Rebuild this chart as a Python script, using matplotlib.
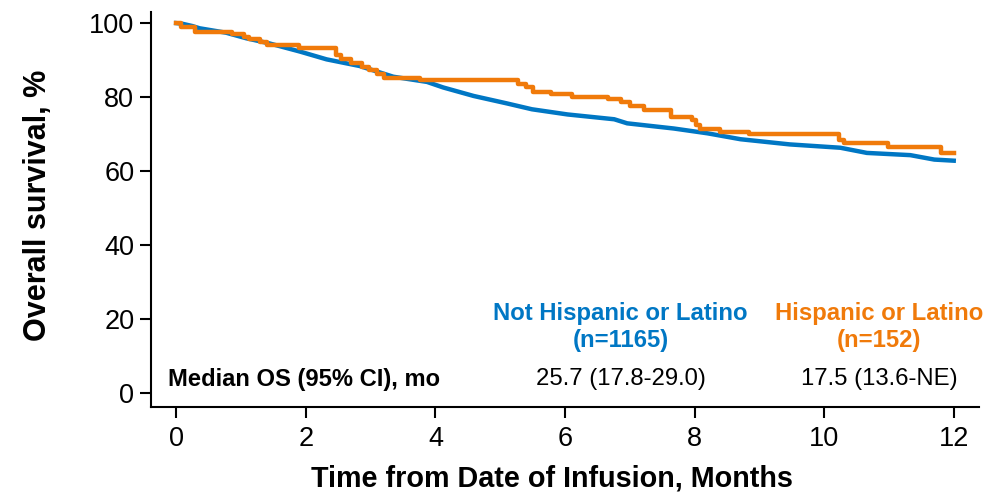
import matplotlib
matplotlib.use("Agg")
import matplotlib.pyplot as plt

plt.rcParams["font.family"] = ["Liberation Sans", "DejaVu Sans"]

BLUE = "#0077C4"
ORANGE = "#F07A0A"

# Not Hispanic or Latino (n=1165), KM estimate read at event times
t_not = [0, 0.1, 0.25, 0.36, 0.77, 1.08, 1.44, 1.91, 2.32, 2.83, 3.35, 3.87,
         4.12, 4.59, 5.1, 5.49, 6.04, 6.76, 6.96, 7.68, 8.2, 8.71, 9.47,
         10.25, 10.66, 11.33, 11.7, 12.0]
s_not = [100, 99.8, 99.2, 98.6, 97.4, 95.9, 94.5, 92.3, 90.2, 88.4, 85.5, 84.1,
         82.6, 80.3, 78.3, 76.7, 75.3, 74.0, 72.9, 71.5, 70.2, 68.6, 67.2,
         66.3, 64.9, 64.3, 63.1, 62.8]

# Hispanic or Latino (n=152), step function
t_his = [0, 0.07, 0.29, 0.86, 1.04, 1.12, 1.30, 1.40, 1.89, 2.46, 2.55, 2.70,
         2.87, 2.97, 3.10, 3.20, 3.77, 5.28, 5.40, 5.50, 5.78, 6.11, 6.67,
         6.86, 7.01, 7.22, 7.63, 7.96, 8.02, 8.09, 8.40, 8.84, 10.23, 10.30,
         10.98, 11.80, 12.0]
s_his = [100, 99.0, 97.7, 97.0, 96.3, 95.6, 94.9, 94.1, 93.4, 91.4, 90.2, 89.3,
         88.2, 87.3, 86.2, 85.2, 84.6, 83.5, 82.6, 81.4, 80.7, 80.1, 79.4,
         78.6, 77.7, 76.5, 74.7, 73.8, 72.4, 71.3, 70.6, 69.9, 68.5, 67.5,
         66.6, 64.9, 64.9]

groups = ["Not Hispanic or Latino", "Hispanic or Latino"]
n_pts = [1165, 152]
median_os = ["25.7 (17.8-29.0)", "17.5 (13.6-NE)"]

fig = plt.figure(figsize=(9.86, 4.98), dpi=100)
ax = fig.add_axes([0.1531, 0.1827, 0.8398, 0.7932])

ax.plot(t_not, s_not, color=BLUE, lw=3.2, solid_joinstyle="miter")
ax.plot(t_his, s_his, color=ORANGE, lw=3.2, drawstyle="steps-post")

ax.set_xlim(-0.39, 12.39)
ax.set_ylim(-3.8, 103)
ax.set_xticks(range(0, 13, 2))
ax.set_yticks(range(0, 101, 20))

for side in ("top", "right"):
    ax.spines[side].set_visible(False)
for side in ("left", "bottom"):
    ax.spines[side].set_linewidth(1.5)
ax.tick_params(axis="both", length=8, width=1.5, labelsize=19.5)
ax.tick_params(axis="x", pad=6)
ax.tick_params(axis="y", pad=4)

ax.set_xlabel("Time from Date of Infusion, Months", fontsize=20.7, fontweight="bold")
ax.set_ylabel("Overall survival, %", fontsize=22, fontweight="bold")
ax.xaxis.set_label_coords(0.484, -0.145)
ax.yaxis.set_label_coords(-0.118, 0.51)

# group headers and median OS row
for x, name, n, med, col in zip([6.86, 10.85], groups, n_pts, median_os, [BLUE, ORANGE]):
    ax.text(x, 19.7, name, color=col, fontsize=17.2, fontweight="bold",
            ha="center", va="baseline")
    ax.text(x, 12.4, f"(n={n})", color=col, fontsize=17.2, fontweight="bold",
            ha="center", va="baseline")
    ax.text(x, 2.2, med, color="black", fontsize=17.2, ha="center", va="baseline")
ax.text(-0.12, 2.0, "Median OS (95% CI), mo", fontsize=17.1, fontweight="bold",
        ha="left", va="baseline")

fig.savefig("out.png", dpi=100)
